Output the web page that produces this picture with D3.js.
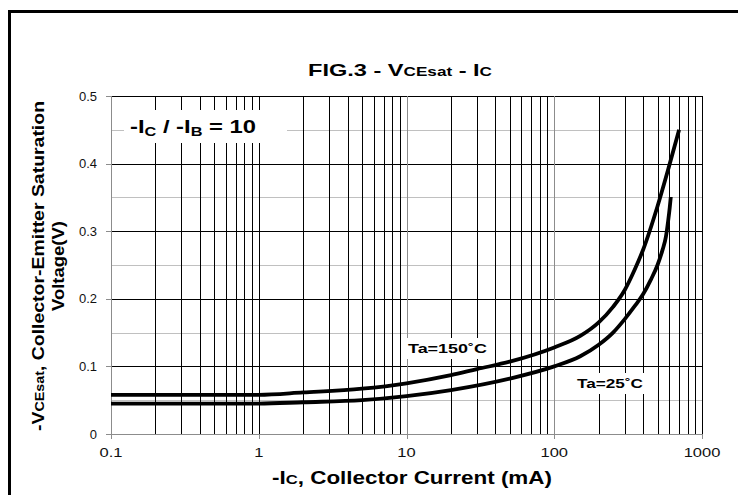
<!DOCTYPE html>
<html><head><meta charset="utf-8">
<script src="https://cdn.jsdelivr.net/npm/d3@7/dist/d3.min.js"></script>
<style>body{margin:0;background:#fff}svg{display:block;font-family:"Liberation Sans",Arial,sans-serif}</style>
</head><body><svg id="c" width="738" height="495"></svg>
<script>
const xTickLabels = ["0.1","1","10","100","1000"];
const xTickValues = [0.1,1,10,100,1000];
const yTickValues = [0,0.1,0.2,0.3,0.4,0.5];
const yTickLabels = ["0","0.1","0.2","0.3","0.4","0.5"];
const yMinorValues = [0.05,0.15,0.25,0.35,0.45];

const ic150 = [0.1,0.5,1,2,5,10,20,30,50,100,150,200,250,300,350,400,500,600,700];
const v150  = [0.058,0.058,0.058,0.0615,0.067,0.075,0.087,0.096,0.107,0.128,0.145,0.165,0.188,0.213,0.243,0.273,0.337,0.397,0.45];
const ic25  = [0.1,0.5,1,2,5,10,20,50,100,150,200,250,300,350,400,450,500,540,570,590,605,615];
const v25   = [0.045,0.045,0.045,0.047,0.050,0.056,0.065,0.082,0.100,0.115,0.132,0.150,0.170,0.189,0.207,0.228,0.25,0.272,0.292,0.315,0.335,0.351];

const svg = d3.select("#c");
const L=111, R=702, T=96, B=434;
const x = d3.scaleLog().domain([0.1,1000]).range([L,R]);
const y = d3.scaleLinear().domain([0,0.5]).range([B,T]);

function stretch(sel, len){ sel.attr("textLength",len).attr("lengthAdjust","spacingAndGlyphs"); return sel; }

// outer border
svg.append("rect").attr("x",9.5).attr("y",11.5).attr("width",760).attr("height",520)
  .attr("fill","none").attr("stroke","#000").attr("stroke-width",3);

const g = svg.append("g").attr("shape-rendering","crispEdges");
g.selectAll(".hm").data(yMinorValues).join("line")
  .attr("x1",L).attr("x2",R).attr("y1",d=>Math.round(y(d))+0.5).attr("y2",d=>Math.round(y(d))+0.5)
  .attr("stroke","#c0c0c0").attr("stroke-width",1.3);
g.selectAll(".hM").data(yTickValues.filter(d=>d>0)).join("line")
  .attr("x1",L).attr("x2",R).attr("y1",d=>Math.round(y(d))+0.5).attr("y2",d=>Math.round(y(d))+0.5)
  .attr("stroke","#000").attr("stroke-width",1.3);
const vt = x.ticks().filter(d=>d>0.1);
g.selectAll(".v").data(vt).join("line")
  .attr("x1",d=>Math.round(x(d))+0.5).attr("x2",d=>Math.round(x(d))+0.5).attr("y1",T).attr("y2",B)
  .attr("stroke",d=>(Math.abs(d-10)<1e-9||Math.abs(d-100)<1e-9)?"#8c8c8c":"#000").attr("stroke-width",1.3);
g.append("line").attr("x1",L+0.5).attr("x2",L+0.5).attr("y1",T).attr("y2",B).attr("stroke","#8c8c8c").attr("stroke-width",1.5);
g.append("line").attr("x1",L-5).attr("x2",R).attr("y1",B+0.5).attr("y2",B+0.5).attr("stroke","#8c8c8c").attr("stroke-width",1.5);
g.selectAll(".yt").data(yTickValues).join("line")
  .attr("x1",L-5).attr("x2",L).attr("y1",d=>Math.round(y(d))+0.5).attr("y2",d=>Math.round(y(d))+0.5)
  .attr("stroke","#8c8c8c").attr("stroke-width",1.5);
g.selectAll(".xt").data(xTickValues).join("line")
  .attr("x1",d=>Math.round(x(d))+0.5).attr("x2",d=>Math.round(x(d))+0.5).attr("y1",B).attr("y2",B+5)
  .attr("stroke","#8c8c8c").attr("stroke-width",1.5);

// tick labels
svg.selectAll(".yl").data(yTickValues).join("text")
  .attr("x",97).attr("y",d=>y(d)+4.5).attr("text-anchor","end").attr("font-size",13).attr("fill","#111")
  .text((d,i)=>yTickLabels[i]);
svg.selectAll(".xl").data(xTickValues).join("text")
  .attr("x",d=>x(d)).attr("y",457).attr("text-anchor","middle").attr("font-size",12.5).attr("fill","#111")
  .text((d,i)=>xTickLabels[i])
  .each(function(){ const n=this.getComputedTextLength(); d3.select(this).attr("textLength",n*1.32).attr("lengthAdjust","spacingAndGlyphs"); });

// curves
const line = d3.line().x(d=>x(d[0])).y(d=>y(d[1])).curve(d3.curveMonotoneX);
svg.append("path").datum(ic150.map((d,i)=>[d,v150[i]])).attr("d",line)
  .attr("fill","none").attr("stroke","#000").attr("stroke-width",3.8);
svg.append("path").datum(ic25.map((d,i)=>[d,v25[i]])).attr("d",line)
  .attr("fill","none").attr("stroke","#000").attr("stroke-width",3.8);

// legend box
svg.append("rect").attr("x",124).attr("y",110).attr("width",163).attr("height",33).attr("fill","#fff");
const lt = svg.append("text").attr("x",130).attr("y",133).attr("font-size",17.5).attr("font-weight","bold");
lt.append("tspan").text("-I");
lt.append("tspan").attr("font-size",12).attr("dy",3).text("C");
lt.append("tspan").attr("dy",-3).text(" / -I");
lt.append("tspan").attr("font-size",12).attr("dy",3).text("B");
lt.append("tspan").attr("dy",-3).text(" = 10");
stretch(lt,126);

// curve labels
svg.append("rect").attr("x",404).attr("y",338).attr("width",87).attr("height",21).attr("fill","#fff");
stretch(svg.append("text").attr("x",408).attr("y",353).attr("font-size",13.5).attr("font-weight","bold").text("Ta=150˚C"),79);
svg.append("rect").attr("x",573).attr("y",373).attr("width",76).attr("height",21).attr("fill","#fff");
stretch(svg.append("text").attr("x",577).attr("y",388).attr("font-size",13.5).attr("font-weight","bold").text("Ta=25˚C"),66);

// title
const tt = svg.append("text").attr("x",400).attr("y",76).attr("text-anchor","middle").attr("font-size",16.5).attr("font-weight","bold");
tt.append("tspan").text("FIG.3 - V");
tt.append("tspan").attr("font-size",12).text("CEsat");
tt.append("tspan").text(" - I");
tt.append("tspan").attr("font-size",12).text("C");
stretch(tt,184);

// x title
const xt = svg.append("text").attr("x",412).attr("y",484).attr("text-anchor","middle").attr("font-size",17.5).attr("font-weight","bold");
xt.append("tspan").text("-I");
xt.append("tspan").attr("font-size",13).text("C");
xt.append("tspan").text(", Collector Current (mA)");
stretch(xt,280);

// y title
const yt = svg.append("text").attr("transform","translate(44,266) rotate(-90)").attr("text-anchor","middle").attr("font-size",17).attr("font-weight","bold");
yt.append("tspan").text("-V");
yt.append("tspan").attr("font-size",12.5).text("CEsat");
yt.append("tspan").text(", Collector-Emitter Saturation");
stretch(yt,330);
stretch(svg.append("text").attr("transform","translate(64,266) rotate(-90)").attr("text-anchor","middle").attr("font-size",17).attr("font-weight","bold").text("Voltage(V)"),90);
</script></body></html>
